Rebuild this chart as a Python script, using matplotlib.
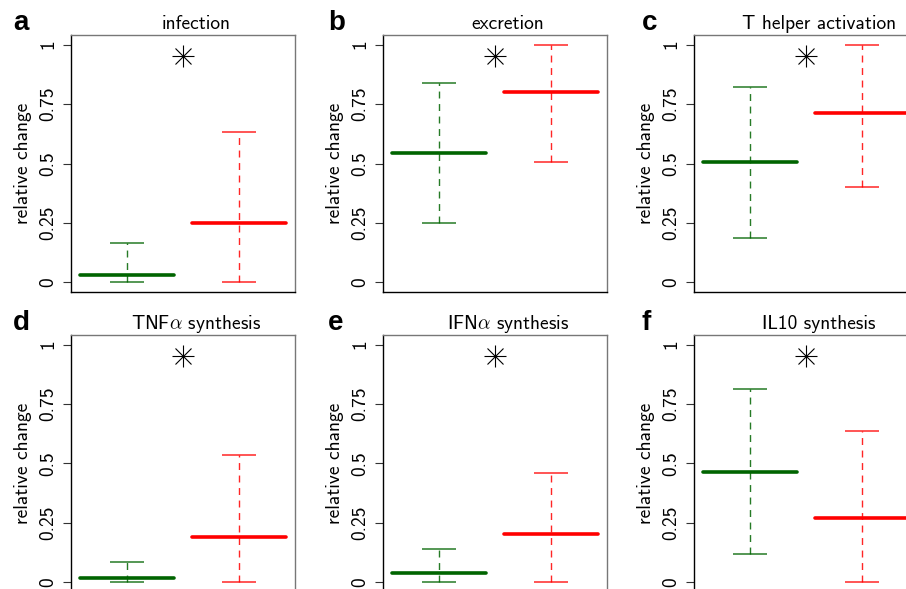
import numpy as np
import matplotlib
matplotlib.use("Agg")
import matplotlib.pyplot as plt

plt.rcParams['font.family'] = ['cmss10', 'DejaVu Sans']
plt.rcParams['mathtext.fontset'] = 'cm'
plt.rcParams['axes.unicode_minus'] = False

# data
letters = ['a', 'b', 'c', 'd', 'e', 'f']
titles = ['infection', 'excretion', 'T helper activation',
          r'TNF$\alpha$ synthesis', r'IFN$\alpha$ synthesis', 'IL10 synthesis']
green_med = [0.031, 0.543, 0.506, 0.020, 0.039, 0.466]
green_lo = [0.0, 0.248, 0.188, 0.0, 0.0, 0.121]
green_hi = [0.168, 0.837, 0.823, 0.084, 0.140, 0.812]
red_med = [0.248, 0.800, 0.712, 0.191, 0.203, 0.273]
red_lo = [0.0, 0.506, 0.403, 0.0, 0.0, 0.0]
red_hi = [0.631, 1.0, 1.0, 0.534, 0.459, 0.637]
star_y = [0.95] * 6
yticks = [0, 0.25, 0.5, 0.75, 1]
yticklabels = ['0', '0.25', '0.5', '0.75', '1']

W, H = 906, 589
fig = plt.figure(figsize=(W / 100, H / 100), dpi=100)

col_left = [71, 383, 694]
row_top = [35, 335]
aw, ah = 224, 257
letter_x = [13, 328, 642]

groups = [
    ('#006400', green_med, green_lo, green_hi),
    ('#ff0000', red_med, red_lo, red_hi),
]

for i in range(6):
    r, c = divmod(i, 3)
    left, top = col_left[c], row_top[r]
    ax = fig.add_axes([left / W, 1 - (top + ah) / H, aw / W, ah / H])
    ax.set_xlim(0.5, 2.5)
    ax.set_ylim(-0.04, 1.04)

    for k, (col, med, lo, hi) in enumerate(groups):
        x = k + 1
        ax.plot([x, x], [lo[i], hi[i]], color=col, lw=1.0, alpha=0.85,
                dashes=(5, 4))
        for yv in (lo[i], hi[i]):
            ax.plot([x - 0.15, x + 0.15], [yv, yv], color=col, lw=1.1,
                    alpha=0.85, solid_capstyle='butt')
        ax.plot([x - 0.42, x + 0.42], [med[i], med[i]], color=col, lw=2.6,
                solid_capstyle='round')

    ax.plot([1.5], [star_y[i]], marker='+', ms=16.5, mew=0.8, color='black')
    ax.plot([1.5], [star_y[i]], marker='x', ms=11.7, mew=0.8, color='black')

    ax.set_xticks([])
    ax.set_yticks(yticks)
    ax.set_yticklabels(yticklabels, fontsize=14)
    for lab in ax.get_yticklabels():
        lab.set_rotation(90)
        lab.set_va('center')
    ax.tick_params(axis='y', length=6, width=0.8, pad=4, color='#333333')
    ax.spines['left'].set_color('black')
    ax.spines['bottom'].set_color('black')
    ax.spines['top'].set_color('#777777')
    ax.spines['right'].set_color('#777777')
    for s in ax.spines.values():
        s.set_linewidth(1.0)

    ax.text(-48 / aw, 0.5, 'relative change', transform=ax.transAxes,
            rotation=90, ha='center', va='center', fontsize=14)

    fig.text((left + aw / 2 + 13) / W, 1 - (top - 6) / H, titles[i],
             ha='center', va='baseline', fontsize=14)
    fig.text(letter_x[c] / W, 1 - (top - 5) / H, letters[i],
             ha='left', va='baseline', fontsize=20, fontweight='bold',
             family='Liberation Sans')

fig.savefig('out.png', dpi=100)
